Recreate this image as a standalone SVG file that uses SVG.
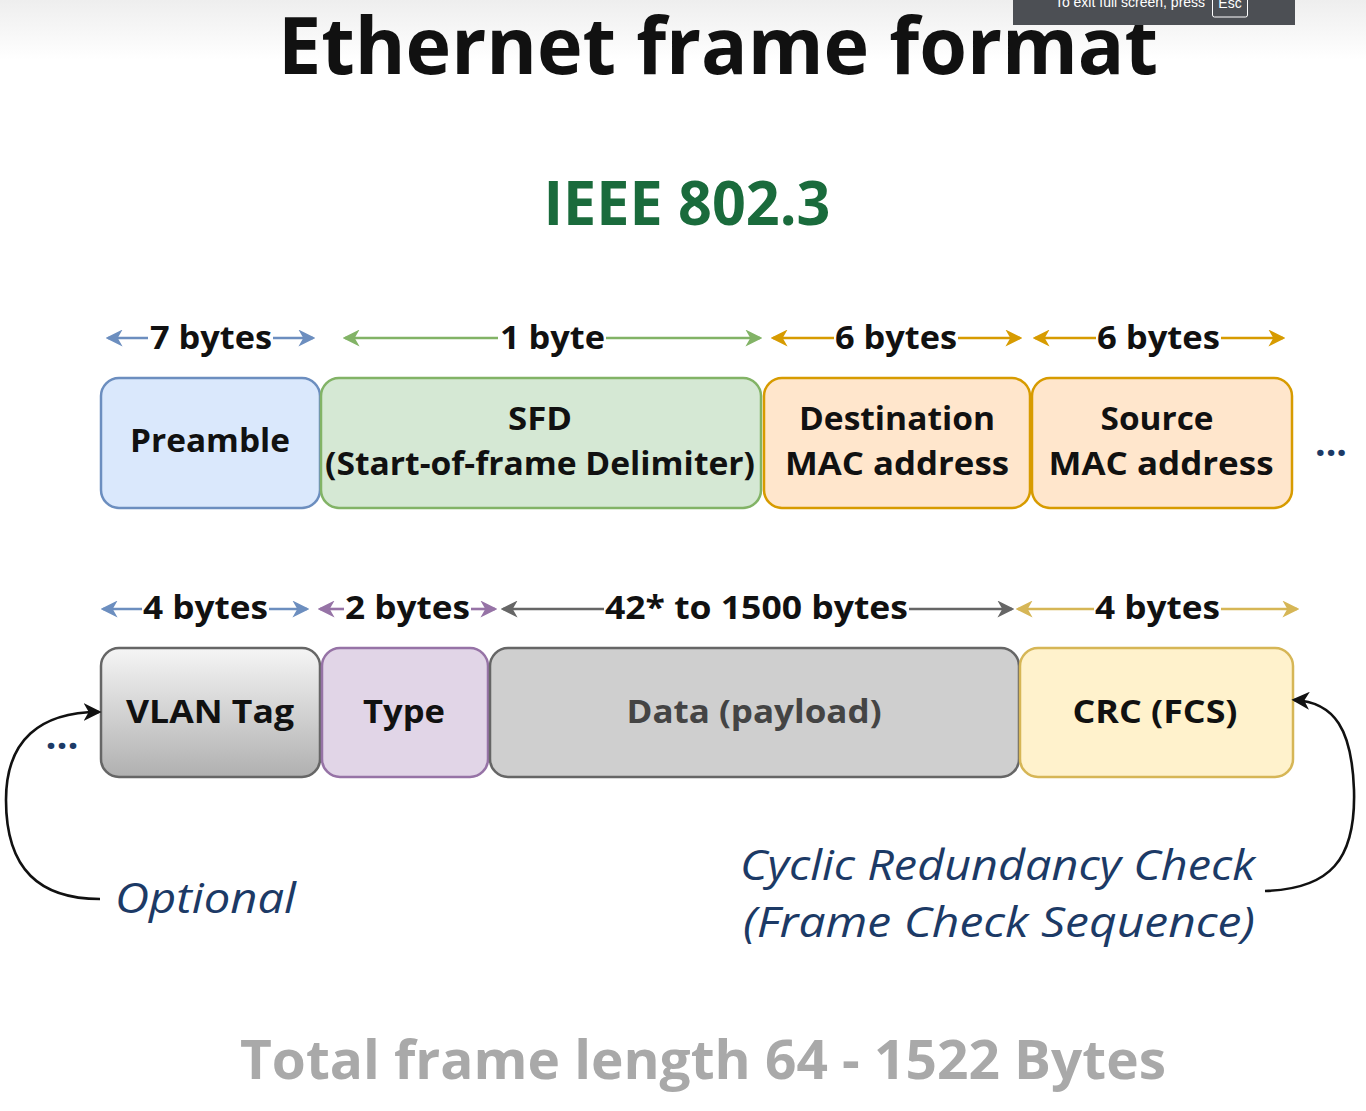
<svg xmlns="http://www.w3.org/2000/svg" width="1366" height="1111" viewBox="0 0 1366 1111">
<defs>
<linearGradient id="bgTop" x1="0" y1="0" x2="0" y2="1">
<stop offset="0" stop-color="#eeeeee"/><stop offset="1" stop-color="#ffffff"/>
</linearGradient>
<linearGradient id="vlanGrad" x1="0" y1="0" x2="0" y2="1">
<stop offset="0" stop-color="#f5f5f5"/><stop offset="1" stop-color="#b0b0b0"/>
</linearGradient>
<marker id="mBlue" viewBox="0 0 14 14" refX="12" refY="7" markerWidth="17" markerHeight="17" markerUnits="userSpaceOnUse" orient="auto"><path d="M0,0 L14,7 L0,14 L4,7 Z" fill="#6c8ebf"/></marker>
<marker id="mGreen" viewBox="0 0 14 14" refX="12" refY="7" markerWidth="17" markerHeight="17" markerUnits="userSpaceOnUse" orient="auto"><path d="M0,0 L14,7 L0,14 L4,7 Z" fill="#82b366"/></marker>
<marker id="mOrange" viewBox="0 0 14 14" refX="12" refY="7" markerWidth="17" markerHeight="17" markerUnits="userSpaceOnUse" orient="auto"><path d="M0,0 L14,7 L0,14 L4,7 Z" fill="#d79b00"/></marker>
<marker id="mPurple" viewBox="0 0 14 14" refX="12" refY="7" markerWidth="17" markerHeight="17" markerUnits="userSpaceOnUse" orient="auto"><path d="M0,0 L14,7 L0,14 L4,7 Z" fill="#9673a6"/></marker>
<marker id="mGray" viewBox="0 0 14 14" refX="12" refY="7" markerWidth="17" markerHeight="17" markerUnits="userSpaceOnUse" orient="auto"><path d="M0,0 L14,7 L0,14 L4,7 Z" fill="#666666"/></marker>
<marker id="mYellow" viewBox="0 0 14 14" refX="12" refY="7" markerWidth="17" markerHeight="17" markerUnits="userSpaceOnUse" orient="auto"><path d="M0,0 L14,7 L0,14 L4,7 Z" fill="#d6b656"/></marker>
<marker id="mBlack" viewBox="0 0 14 14" refX="12" refY="7" markerWidth="18" markerHeight="18" markerUnits="userSpaceOnUse" orient="auto"><path d="M0,0 L14,7 L0,14 L4,7 Z" fill="#111111"/></marker>
</defs>
<style>
.box{stroke-width:2.5}
.lbl{font-family:"Open Sans","Noto Sans","DejaVu Sans",sans-serif;font-weight:700;font-size:32px;fill:#111;text-anchor:middle}
.sz{font-family:"Open Sans","Noto Sans","DejaVu Sans",sans-serif;font-weight:700;font-size:33px;fill:#111}
.note{font-family:"Open Sans","Noto Sans","DejaVu Sans",sans-serif;font-style:italic;font-size:42px;fill:#1c3a66}
.ln{stroke-width:2.6;fill:none}
.dots{font-family:"Open Sans",sans-serif;font-weight:700;font-size:38px;fill:#1c3a66;text-anchor:middle}
</style>
<rect x="0" y="0" width="1366" height="60" fill="url(#bgTop)"/>
<rect x="0" y="60" width="1366" height="1051" fill="#ffffff"/>

<text x="718" y="74" text-anchor="middle" font-family="'Open Sans','Noto Sans',sans-serif" font-weight="700" font-size="78" fill="#111" textLength="880" lengthAdjust="spacingAndGlyphs">Ethernet frame format</text>
<text x="687" y="225" text-anchor="middle" font-family="'Open Sans','Noto Sans',sans-serif" font-weight="700" font-size="60" fill="#1a6b3c" textLength="287" lengthAdjust="spacingAndGlyphs">IEEE 802.3</text>

<g id="preamble"><rect class="box" x="101" y="378" width="219" height="130" rx="18" fill="#dae8fc" stroke="#6c8ebf"/><text class="lbl" x="210" y="452" textLength="160" lengthAdjust="spacingAndGlyphs">Preamble</text></g>
<g id="sfd"><rect class="box" x="321" y="378" width="440" height="130" rx="18" fill="#d5e8d4" stroke="#82b366"/><text class="lbl" x="540" y="430" textLength="64" lengthAdjust="spacingAndGlyphs">SFD</text><text class="lbl" x="540" y="475" textLength="430" lengthAdjust="spacingAndGlyphs">(Start-of-frame Delimiter)</text></g>
<g id="dest"><rect class="box" x="764" y="378" width="266" height="130" rx="18" fill="#ffe6cc" stroke="#d79b00"/><text class="lbl" x="897" y="430" textLength="196" lengthAdjust="spacingAndGlyphs">Destination</text><text class="lbl" x="897" y="475" textLength="224" lengthAdjust="spacingAndGlyphs">MAC address</text></g>
<g id="source"><rect class="box" x="1032" y="378" width="260" height="130" rx="18" fill="#ffe6cc" stroke="#d79b00"/><text class="lbl" x="1157" y="430" textLength="113" lengthAdjust="spacingAndGlyphs">Source</text><text class="lbl" x="1161" y="475" textLength="225" lengthAdjust="spacingAndGlyphs">MAC address</text></g>
<text class="dots" x="1331" y="456" textLength="32" lengthAdjust="spacingAndGlyphs">...</text>

<g id="vlan"><rect class="box" x="101" y="648" width="219" height="129" rx="18" fill="url(#vlanGrad)" stroke="#666666"/><text class="lbl" x="210" y="723" textLength="168" lengthAdjust="spacingAndGlyphs">VLAN Tag</text></g>
<g id="type"><rect class="box" x="322" y="648" width="166" height="129" rx="18" fill="#e1d5e7" stroke="#9673a6"/><text class="lbl" x="404" y="723" textLength="82" lengthAdjust="spacingAndGlyphs">Type</text></g>
<g id="data"><rect class="box" x="490" y="648" width="529" height="129" rx="18" fill="#cfcfcf" stroke="#666666"/><text class="lbl" x="754" y="723" style="fill:#444" textLength="255" lengthAdjust="spacingAndGlyphs">Data (payload)</text></g>
<g id="crc"><rect class="box" x="1020" y="648" width="273" height="129" rx="18" fill="#fff2cc" stroke="#d6b656"/><text class="lbl" x="1155" y="723" textLength="165" lengthAdjust="spacingAndGlyphs">CRC (FCS)</text></g>
<text class="dots" x="62" y="749" textLength="33" lengthAdjust="spacingAndGlyphs">...</text>

<g id="sizes">
<text class="sz" x="150" y="349" textLength="122" lengthAdjust="spacingAndGlyphs">7 bytes</text>
<text class="sz" x="500" y="349" textLength="105" lengthAdjust="spacingAndGlyphs">1 byte</text>
<text class="sz" x="835" y="349" textLength="122" lengthAdjust="spacingAndGlyphs">6 bytes</text>
<text class="sz" x="1097" y="349" textLength="123" lengthAdjust="spacingAndGlyphs">6 bytes</text>
<text class="sz" x="143" y="619" textLength="125" lengthAdjust="spacingAndGlyphs">4 bytes</text>
<text class="sz" x="345" y="619" textLength="125" lengthAdjust="spacingAndGlyphs">2 bytes</text>
<text class="sz" x="605" y="619" textLength="303" lengthAdjust="spacingAndGlyphs">42* to 1500 bytes</text>
<text class="sz" x="1095" y="619" textLength="125" lengthAdjust="spacingAndGlyphs">4 bytes</text>
</g>

<g id="connectors">
<line class="ln" stroke="#6c8ebf" x1="148" y1="338" x2="108" y2="338" marker-end="url(#mBlue)"/>
<line class="ln" stroke="#6c8ebf" x1="273" y1="338" x2="313" y2="338" marker-end="url(#mBlue)"/>
<line class="ln" stroke="#82b366" x1="498" y1="338" x2="345" y2="338" marker-end="url(#mGreen)"/>
<line class="ln" stroke="#82b366" x1="606" y1="338" x2="760" y2="338" marker-end="url(#mGreen)"/>
<line class="ln" stroke="#d79b00" x1="834" y1="338" x2="773" y2="338" marker-end="url(#mOrange)"/>
<line class="ln" stroke="#d79b00" x1="958" y1="338" x2="1020" y2="338" marker-end="url(#mOrange)"/>
<line class="ln" stroke="#d79b00" x1="1096" y1="338" x2="1035" y2="338" marker-end="url(#mOrange)"/>
<line class="ln" stroke="#d79b00" x1="1221" y1="338" x2="1283" y2="338" marker-end="url(#mOrange)"/>

<line class="ln" stroke="#6c8ebf" x1="142" y1="609" x2="103" y2="609" marker-end="url(#mBlue)"/>
<line class="ln" stroke="#6c8ebf" x1="269" y1="609" x2="307" y2="609" marker-end="url(#mBlue)"/>
<line class="ln" stroke="#9673a6" x1="344" y1="609" x2="320" y2="609" marker-end="url(#mPurple)"/>
<line class="ln" stroke="#9673a6" x1="471" y1="609" x2="495" y2="609" marker-end="url(#mPurple)"/>
<line class="ln" stroke="#666666" x1="604" y1="609" x2="503" y2="609" marker-end="url(#mGray)"/>
<line class="ln" stroke="#666666" x1="909" y1="609" x2="1012" y2="609" marker-end="url(#mGray)"/>
<line class="ln" stroke="#d6b656" x1="1094" y1="609" x2="1018" y2="609" marker-end="url(#mYellow)"/>
<line class="ln" stroke="#d6b656" x1="1221" y1="609" x2="1297" y2="609" marker-end="url(#mYellow)"/>

<path class="ln" stroke="#111" stroke-width="2.5" d="M100,899 C40,899 6,870 6,800 C6,740 40,712 99,712" marker-end="url(#mBlack)"/>
<path class="ln" stroke="#111" stroke-width="2.5" d="M1265,891 C1330,889 1356,860 1354,790 C1352,730 1335,702 1294,700" marker-end="url(#mBlack)"/>
</g>

<text class="note" x="115" y="913" textLength="181" lengthAdjust="spacingAndGlyphs">Optional</text>
<text class="note" x="740" y="880" textLength="515" lengthAdjust="spacingAndGlyphs">Cyclic Redundancy Check</text>
<text class="note" x="743" y="937" textLength="512" lengthAdjust="spacingAndGlyphs">(Frame Check Sequence)</text>

<text x="703" y="1079" text-anchor="middle" font-family="'Open Sans','Noto Sans',sans-serif" font-weight="700" font-size="54" fill="#a9a9a9" textLength="926" lengthAdjust="spacingAndGlyphs">Total frame length 64 - 1522 Bytes</text>

<g id="overlay">
<rect x="1013" y="0" width="282" height="25" fill="#4c4f54"/>
<text x="1130" y="7" text-anchor="middle" font-family="'Liberation Sans',sans-serif" font-size="14" fill="#ffffff">To exit full screen, press</text>
<rect x="1212.5" y="-4" width="35" height="21" rx="2" fill="none" stroke="#ffffff" stroke-width="1"/>
<text x="1230" y="8" text-anchor="middle" font-family="'Liberation Sans',sans-serif" font-size="14" fill="#ffffff">Esc</text>
</g>
</svg>
